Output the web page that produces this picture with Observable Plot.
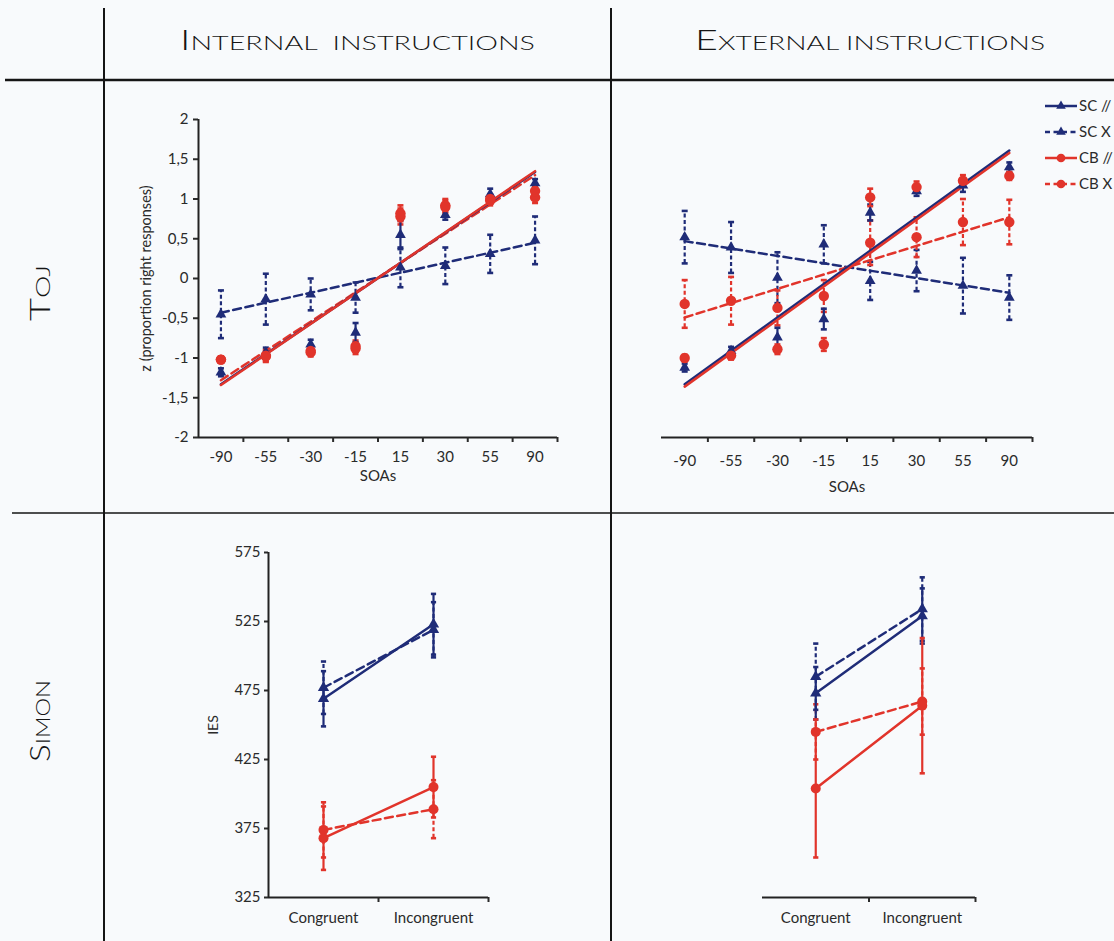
<!DOCTYPE html>
<html><head><meta charset="utf-8">
<script src="https://cdn.jsdelivr.net/npm/d3@7"></script>
<script src="https://cdn.jsdelivr.net/npm/@observablehq/plot@0.6"></script>
<style>
html,body{margin:0;padding:0;background:#f8fafc;}
#wrap{position:relative;width:1114px;height:941px;overflow:hidden;background:#f8fafc;}
#wrap svg{position:absolute;max-width:none;}
</style></head>
<body><div id="wrap"></div>
<script>
// ---------- categories & labels ----------
const soaLabels = ["-90", "-55", "-30", "-15", "15", "30", "55", "90"];
const zTicks = [-2, -1.5, -1, -0.5, 0, 0.5, 1, 1.5, 2];
const simonConds = ["Congruent", "Incongruent"];
const iesTicks = [325, 375, 425, 475, 525, 575];
const seriesLabels = ["SC //", "SC X", "CB //", "CB X"];
const colTitles = ["Internal  instructions", "External instructions"];
const rowTitles = ["TOJ", "Simon"];

// ---------- TOJ, internal instructions ----------
const tojIntScPar = [-1.18, -0.93, -0.83, -0.68, 0.55, 0.80, 1.06, 1.20];
const tojIntScParErr = [0.05, 0.06, 0.06, 0.12, 0.18, 0.06, 0.07, 0.05];
const tojIntScX = [-0.45, -0.26, -0.20, -0.24, 0.14, 0.16, 0.31, 0.48];
const tojIntScXErr = [0.30, 0.32, 0.20, 0.19, 0.25, 0.23, 0.24, 0.30];
const tojIntCbPar = [-1.02, -0.97, -0.93, -0.88, 0.82, 0.92, 1.00, 1.10];
const tojIntCbParErr = [0.04, 0.07, 0.05, 0.07, 0.10, 0.08, 0.06, 0.07];
const tojIntCbX = [-1.02, -0.98, -0.91, -0.85, 0.78, 0.90, 0.98, 1.02];
const tojIntCbXErr = [0.04, 0.07, 0.05, 0.07, 0.10, 0.08, 0.06, 0.07];
// linear trend lines: value at -90 and at 90
const tojIntTrendScPar = [-1.33, 1.34];
const tojIntTrendScX = [-0.43, 0.45];
const tojIntTrendCbPar = [-1.34, 1.35];
const tojIntTrendCbX = [-1.28, 1.30];

// ---------- TOJ, external instructions ----------
const tojExtScPar = [-1.12, -0.91, -0.74, -0.51, 0.83, 1.10, 1.17, 1.40];
const tojExtScParErr = [0.05, 0.05, 0.12, 0.13, 0.10, 0.06, 0.08, 0.06];
const tojExtScX = [0.52, 0.39, 0.01, 0.43, -0.03, 0.10, -0.09, -0.24];
const tojExtScXErr = [0.33, 0.32, 0.32, 0.24, 0.24, 0.26, 0.35, 0.28];
const tojExtCbPar = [-1.00, -0.97, -0.89, -0.83, 1.02, 1.15, 1.23, 1.29];
const tojExtCbParErr = [0.04, 0.05, 0.06, 0.08, 0.11, 0.07, 0.07, 0.05];
const tojExtCbX = [-0.32, -0.28, -0.37, -0.22, 0.45, 0.52, 0.71, 0.71];
const tojExtCbXErr = [0.30, 0.30, 0.22, 0.20, 0.28, 0.25, 0.29, 0.28];
const tojExtTrendScPar = [-1.33, 1.61];
const tojExtTrendScX = [0.47, -0.18];
const tojExtTrendCbPar = [-1.36, 1.58];
const tojExtTrendCbX = [-0.49, 0.77];

// ---------- Simon (IES), internal instructions ----------
const simIntScPar = [469, 523];
const simIntScParErr = [20, 22];
const simIntScX = [477, 519];
const simIntScXErr = [19, 20];
const simIntCbPar = [368, 405];
const simIntCbParErr = [23, 22];
const simIntCbX = [374, 389];
const simIntCbXErr = [20, 21];

// ---------- Simon (IES), external instructions ----------
const simExtScPar = [473, 529];
const simExtScParErr = [19, 20];
const simExtScX = [485, 534];
const simExtScXErr = [24, 23];
const simExtCbPar = [404, 464];
const simExtCbParErr = [50, 49];
const simExtCbX = [445, 467];
const simExtCbXErr = [20, 24];

// ---------- styles ----------
const NAVY = "#1f2c78", RED = "#e1342b", INK = "#222";
const STYLE = [
  {color: NAVY, dash: null, symbol: "triangle"},
  {color: NAVY, dash: "8,4.5", symbol: "triangle"},
  {color: RED, dash: null, symbol: "circle"},
  {color: RED, dash: "8,4.5", symbol: "circle"}
];
const FONT = "Lato, 'Open Sans', sans-serif";
const capSymbol = {draw(ctx, size) { const w = Math.sqrt(size / Math.PI); ctx.moveTo(-w, 0); ctx.lineTo(w, 0); }};

function seriesRows(values, errors, s) {
  return values.map((v, i) => ({s, x: i + 0.5, v, lo: v - errors[i], hi: v + errors[i]}));
}
function errorMarks(rows, st, capR) {
  const dash = st.dash ? "4,2.5" : undefined;
  return [
    Plot.ruleX(rows, {x: "x", y1: "lo", y2: "hi", stroke: st.color, strokeWidth: 2.2, strokeDasharray: dash}),
    Plot.dot(rows, {x: "x", y: "hi", symbol: capSymbol, r: capR, stroke: st.color, strokeWidth: 2.6, fill: "none"}),
    Plot.dot(rows, {x: "x", y: "lo", symbol: capSymbol, r: capR, stroke: st.color, strokeWidth: 2.6, fill: "none"})
  ];
}
function markerMarks(rows, st, triR, cirR) {
  return Plot.dot(rows, {x: "x", y: "v", symbol: st.symbol, r: st.symbol === "triangle" ? triR : cirR, fill: st.color});
}
function place(svg, left, top) {
  svg.style.position = "absolute";
  svg.style.left = left + "px";
  svg.style.top = top + "px";
  svg.style.maxWidth = "none";
  svg.style.overflow = "visible";
  return svg;
}

function tojPanel({left, top, width, marginLeft, values, errors, trends, showY, labelDy, titleDy}) {
  const n = soaLabels.length;
  const rows = values.map((vals, s) => seriesRows(vals, errors[s], s));
  const marks = [];
  if (showY) {
    marks.push(Plot.axisY({ticks: zTicks, tickFormat: d => String(d).replace(".", ","), tickSize: 5, tickPadding: 5, label: null, strokeWidth: 2}));
    marks.push(Plot.ruleX([0], {stroke: INK, strokeWidth: 2}));
    marks.push(Plot.text(["z (proportion right responses)"], {frameAnchor: "left", dx: -52, rotate: -90, textAnchor: "middle", fontSize: 14.5}));
  }
  marks.push(Plot.ruleY([-2], {stroke: INK, strokeWidth: 2}));
  marks.push(Plot.axisX({ticks: d3.range(1, n + 1), tickSize: 5, tickFormat: () => "", label: null, strokeWidth: 2}));
  marks.push(Plot.text(soaLabels, {x: (d, i) => i + 0.5, text: d => d, frameAnchor: "bottom", lineAnchor: "middle", dy: labelDy}));
  marks.push(Plot.text(["SOAs"], {frameAnchor: "bottom", lineAnchor: "middle", dy: titleDy}));
  [1, 3, 0, 2].forEach(s => marks.push(...errorMarks(rows[s], STYLE[s], 3)));
  [1, 3, 0, 2].forEach(s => marks.push(Plot.line(
    [{x: 0.5, y: trends[s][0]}, {x: n - 0.5, y: trends[s][1]}],
    {x: "x", y: "y", stroke: STYLE[s].color, strokeWidth: 2.5, strokeDasharray: STYLE[s].dash || undefined})));
  [1, 0, 3, 2].forEach(s => marks.push(markerMarks(rows[s], STYLE[s], 4, 5.2)));
  const svg = Plot.plot({
    width, height: 392, marginLeft, marginRight: 5, marginTop: 24, marginBottom: 50,
    x: {domain: [0, n]},
    y: {domain: [-2, 2], ...(showY ? {} : {axis: null})},
    style: {background: "transparent", fontFamily: FONT, fontSize: "15px", color: "#2a2a2a"},
    marks
  });
  return place(svg, left, top);
}

function simonPanel({left, width, marginLeft, values, errors, showY}) {
  const n = simonConds.length;
  const rows = values.map((vals, s) => seriesRows(vals, errors[s], s));
  const marks = [];
  if (showY) {
    marks.push(Plot.axisY({ticks: iesTicks, tickFormat: d => String(d), tickSize: 4, tickPadding: 4, label: null, strokeWidth: 2}));
    marks.push(Plot.ruleX([0], {stroke: INK, strokeWidth: 2}));
    marks.push(Plot.text(["IES"], {frameAnchor: "left", dx: -55, rotate: -90, textAnchor: "middle", fontSize: 14}));
  }
  marks.push(Plot.ruleY([325], {stroke: INK, strokeWidth: 2}));
  marks.push(Plot.axisX({ticks: d3.range(1, n + 1), tickSize: 5, tickFormat: () => "", label: null, strokeWidth: 2}));
  marks.push(Plot.text(simonConds, {x: (d, i) => i + 0.5, text: d => d, frameAnchor: "bottom", lineAnchor: "middle", dy: 21}));
  [1, 3, 0, 2].forEach(s => marks.push(...errorMarks(rows[s], STYLE[s], 2.6)));
  [1, 3, 0, 2].forEach(s => marks.push(Plot.line(rows[s], {x: "x", y: "v", stroke: STYLE[s].color, strokeWidth: 2.5, strokeDasharray: STYLE[s].dash || undefined})));
  [1, 0, 3, 2].forEach(s => marks.push(markerMarks(rows[s], STYLE[s], 4.2, 5)));
  const svg = Plot.plot({
    width, height: 411, marginLeft, marginRight: 10, marginTop: 22, marginBottom: 44,
    x: {domain: [0, n]},
    y: {domain: [325, 575], ...(showY ? {} : {axis: null})},
    style: {background: "transparent", fontFamily: FONT, fontSize: "15px", color: "#2a2a2a"},
    marks
  });
  return place(svg, left, 530);
}

// ---------- background frame, headers, legend ----------
const wrap = document.getElementById("wrap");
const bg = d3.create("svg").attr("width", 1114).attr("height", 941)
  .style("left", "0px").style("top", "0px");
const lines = [
  {x1: 104, y1: 8, x2: 104, y2: 941, w: 2},
  {x1: 611, y1: 8, x2: 611, y2: 941, w: 2},
  {x1: 5, y1: 80, x2: 1114, y2: 80, w: 2.5},
  {x1: 12, y1: 513, x2: 1114, y2: 513, w: 1.6}
];
bg.selectAll("line.grid").data(lines).join("line").attr("class", "grid")
  .attr("x1", d => d.x1).attr("y1", d => d.y1).attr("x2", d => d.x2).attr("y2", d => d.y2)
  .attr("stroke", "#151515").attr("stroke-width", d => d.w);

function smallCapsText(parent, str, big, small, attrs) {
  const t = parent.append("text").attr("font-family", "Lato, 'DejaVu Sans', sans-serif")
    .attr("font-weight", 300).attr("fill", "#151515").style("white-space", "pre");
  Object.entries(attrs).forEach(([k, v]) => t.attr(k, v));
  t.append("tspan").attr("font-size", big).text(str[0].toUpperCase());
  t.append("tspan").attr("font-size", small).text(str.slice(1).toUpperCase());
  return t;
}
smallCapsText(bg, colTitles[0], 28, 20, {x: 180, y: 50, textLength: 355, lengthAdjust: "spacingAndGlyphs"});
smallCapsText(bg, colTitles[1], 28, 20, {x: 695, y: 50, textLength: 350, lengthAdjust: "spacingAndGlyphs"});
smallCapsText(bg, rowTitles[0], 28, 20, {transform: "translate(50,293) rotate(-90)", "text-anchor": "middle", textLength: 56, lengthAdjust: "spacingAndGlyphs"});
smallCapsText(bg, rowTitles[1], 28, 20, {transform: "translate(50,721) rotate(-90)", "text-anchor": "middle", textLength: 82, lengthAdjust: "spacingAndGlyphs"});

const legendY = [106, 132, 158, 184];
const lg = bg.append("g");
seriesLabels.forEach((lab, s) => {
  const st = STYLE[s], y = legendY[s];
  lg.append("line").attr("x1", 1045).attr("x2", 1077).attr("y1", y).attr("y2", y)
    .attr("stroke", st.color).attr("stroke-width", 2.5).attr("stroke-dasharray", st.dash ? "5,3.5" : null);
  lg.append("path").attr("transform", `translate(1061,${y})`)
    .attr("d", d3.symbol(st.symbol === "triangle" ? d3.symbolTriangle : d3.symbolCircle, st.symbol === "triangle" ? 40 : 60)())
    .attr("fill", st.color);
  lg.append("text").attr("x", 1079).attr("y", y + 5).attr("font-family", FONT).attr("font-size", 15)
    .attr("fill", "#2a2a2a").text(lab);
});
wrap.appendChild(bg.node());

// ---------- panels ----------
wrap.appendChild(tojPanel({
  left: 100, top: 95, width: 462, marginLeft: 98, showY: true, labelDy: 20, titleDy: 39,
  values: [tojIntScPar, tojIntScX, tojIntCbPar, tojIntCbX],
  errors: [tojIntScParErr, tojIntScXErr, tojIntCbParErr, tojIntCbXErr],
  trends: [tojIntTrendScPar, tojIntTrendScX, tojIntTrendCbPar, tojIntTrendCbX]
}));
wrap.appendChild(tojPanel({
  left: 615, top: 95, width: 422, marginLeft: 46, showY: false, labelDy: 24, titleDy: 50,
  values: [tojExtScPar, tojExtScX, tojExtCbPar, tojExtCbX],
  errors: [tojExtScParErr, tojExtScXErr, tojExtCbParErr, tojExtCbXErr],
  trends: [tojExtTrendScPar, tojExtTrendScX, tojExtTrendCbPar, tojExtTrendCbX]
}));
wrap.appendChild(simonPanel({
  left: 180, width: 318, marginLeft: 88, showY: true,
  values: [simIntScPar, simIntScX, simIntCbPar, simIntCbX],
  errors: [simIntScParErr, simIntScXErr, simIntCbParErr, simIntCbXErr]
}));
wrap.appendChild(simonPanel({
  left: 700, width: 285, marginLeft: 62, showY: false,
  values: [simExtScPar, simExtScX, simExtCbPar, simExtCbX],
  errors: [simExtScParErr, simExtScXErr, simExtCbParErr, simExtCbXErr]
}));
</script>
</body></html>
